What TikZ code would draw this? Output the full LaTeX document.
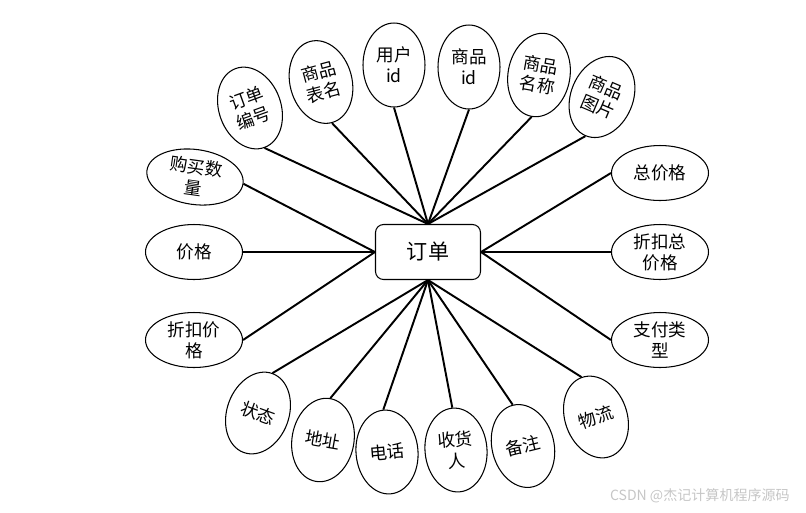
\documentclass[tikz,border=0pt]{standalone}
\usepackage{fontspec}
\newfontfamily\cjk{Noto Sans CJK SC}
\usepackage{tikz}
\usetikzlibrary{shapes.geometric}
\tikzstyle{entity} = [rectangle, rounded corners=0.16cm, minimum width=2.1cm,
                      minimum height=1.1cm, text centered, draw=black,
                      line width=0.6pt, font=\cjk\fontsize{12}{14}\selectfont]
\tikzstyle{attrv}  = [ellipse, draw=black, line width=0.6pt, inner sep=0pt,
                      minimum width=1.24cm, minimum height=1.68cm, align=center,
                      font=\cjk\fontsize{10}{12}\selectfont]
\tikzstyle{attrh}  = [ellipse, draw=black, line width=0.6pt, inner sep=0pt,
                      minimum width=1.94cm, minimum height=1.1cm, align=center,
                      font=\cjk\fontsize{10}{12}\selectfont]
\tikzstyle{link}   = [line width=1.1pt]

\begin{document}
\begin{tikzpicture}[x=0.02cm, y=-0.02cm]
    \useasboundingbox (0,0) rectangle (806,512);
    \node (order) [entity] at (428,252) {订单};

    % top
    \node (ddbh) [attrv, rotate=20]  at (250,108) {订单\\编号};
    \node (spbm) [attrv, rotate=15]  at (321,82)  {商品\\表名};
    \node (yhid) [attrv]             at (394,65)  {用户\\id};
    \node (spid) [attrv]             at (469,67)  {商品\\id};
    \node (spmc) [attrv, rotate=-10] at (539,75)  {商品\\名称};
    \node (sptp) [attrv, rotate=-23] at (602,97)  {商品\\图片};

    % left and right
    \node (gmsl) [attrh, rotate=-8]  at (195,177) {购买数\\量};
    \node (jg)   [attrh]             at (194,252) {价格};
    \node (zkjg) [attrh]             at (194,340) {折扣价\\格};
    \node (zjg)  [attrh]             at (660,173) {总价格};
    \node (zkzj) [attrh]             at (660,252) {折扣总\\价格};
    \node (zflx) [attrh]             at (660,340) {支付类\\型};

    % bottom
    \node (zt)   [attrv, rotate=-20] at (258,413) {状态};
    \node (dz)   [attrv, rotate=-10] at (323,440) {地址};
    \node (dh)   [attrv, rotate=5]   at (387,452) {电话};
    \node (shr)  [attrv, rotate=5]   at (456,450) {收货\\人};
    \node (bz)   [attrv, rotate=14]  at (523,446) {备注};
    \node (wl)   [attrv, rotate=20]  at (596,417) {物流};

    \foreach \n in {ddbh, spbm, yhid, spid, spmc, sptp}
        \draw [link] (order.north) -- (\n.south);
    \foreach \n in {zt, dz, dh, shr, bz, wl}
        \draw [link] (order.south) -- (\n.north);
    \foreach \n in {gmsl, jg, zkjg}
        \draw [link] (order.west) -- (\n.east);
    \foreach \n in {zjg, zkzj, zflx}
        \draw [link] (order.east) -- (\n.west);

    \node (wm) [anchor=east, text=gray!45, font=\cjk\fontsize{8}{10}\selectfont]
        at (796,496) {CSDN @杰记计算机程序源码};
\end{tikzpicture}
\end{document}
